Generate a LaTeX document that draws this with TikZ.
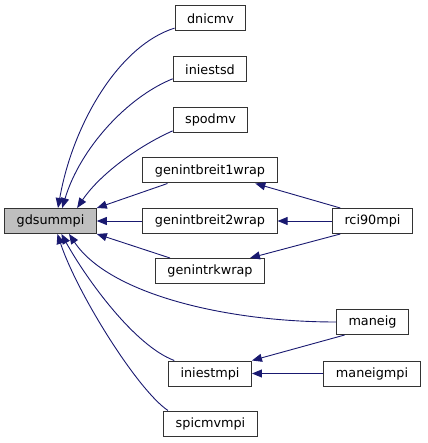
\documentclass[tikz,border=0pt]{standalone}
\usepackage{fontspec}
\setmainfont{DejaVu Sans}
\usetikzlibrary{arrows.meta}
\definecolor{edgeblue}{RGB}{25,25,112}

\begin{document}
\begin{tikzpicture}[x=1pt, y=-1pt,
        fn/.style={rectangle, draw=black!80, line width=1pt, inner xsep=12pt, inner ysep=0pt,
            minimum height=25pt, font=\fontsize{12.8}{15}\selectfont},
        call/.style={draw=edgeblue, line width=0.9pt, -{Triangle[length=10pt, width=8pt]}}]
    \useasboundingbox (0,0) rectangle (427,443);
    % the function being called
    \node[fn, fill=black!25] (gdsummpi) at (50.5,221) {gdsummpi};
    % its direct callers
    \node[fn] (dnicmv) at (210.5,18.5) {dnicmv};
    \node[fn] (iniestsd) at (210,69.5) {iniestsd};
    \node[fn] (spodmv) at (210.5,120) {spodmv};
    \node[fn] (genintbreit1wrap) at (210,170.5) {genintbreit1wrap};
    \node[fn] (genintbreit2wrap) at (210,221) {genintbreit2wrap};
    \node[fn] (genintrkwrap) at (210,271) {genintrkwrap};
    \node[fn] (iniestmpi) at (210,373.5) {iniestmpi};
    \node[fn] (spicmvmpi) at (210.5,423.5) {spicmvmpi};
    % second level
    \node[fn] (rci90mpi) at (372.5,221) {rci90mpi};
    \node[fn] (maneig) at (372.5,322) {maneig};
    \node[fn] (maneigmpi) at (372,373.5) {maneigmpi};

    % calls into gdsummpi
    \draw[call] (dnicmv.195) .. controls +(-55,17) and +(15,-85) .. (gdsummpi.60);
    \draw[call] (iniestsd.194) .. controls +(-45,18) and +(18,-60) .. (gdsummpi.48);
    \draw[call] (spodmv.196) .. controls +(-40,18) and +(20,-30) .. (gdsummpi.26);
    \draw[call] (genintbreit1wrap.197) -- (gdsummpi.north east);
    \draw[call] (genintbreit2wrap) -- (gdsummpi);
    \draw[call] (genintrkwrap.162) -- (gdsummpi.south east);
    \draw[call] (maneig.west) .. controls +(-110,0) and +(40,60) .. (gdsummpi.-35);
    \draw[call] (iniestmpi.160) .. controls +(-40,-15) and +(25,45) .. (gdsummpi.-50);
    \draw[call] (spicmvmpi.163) .. controls +(-30,-20) and +(20,60) .. (gdsummpi.-62);

    % second level calls
    \draw[call] (rci90mpi.158) -- (genintbreit1wrap.344);
    \draw[call] (rci90mpi) -- (genintbreit2wrap);
    \draw[call] (rci90mpi.202) -- (genintrkwrap.18);
    \draw[call] (maneig.205) -- (iniestmpi.north east);
    \draw[call] (maneigmpi) -- (iniestmpi);
\end{tikzpicture}
\end{document}
